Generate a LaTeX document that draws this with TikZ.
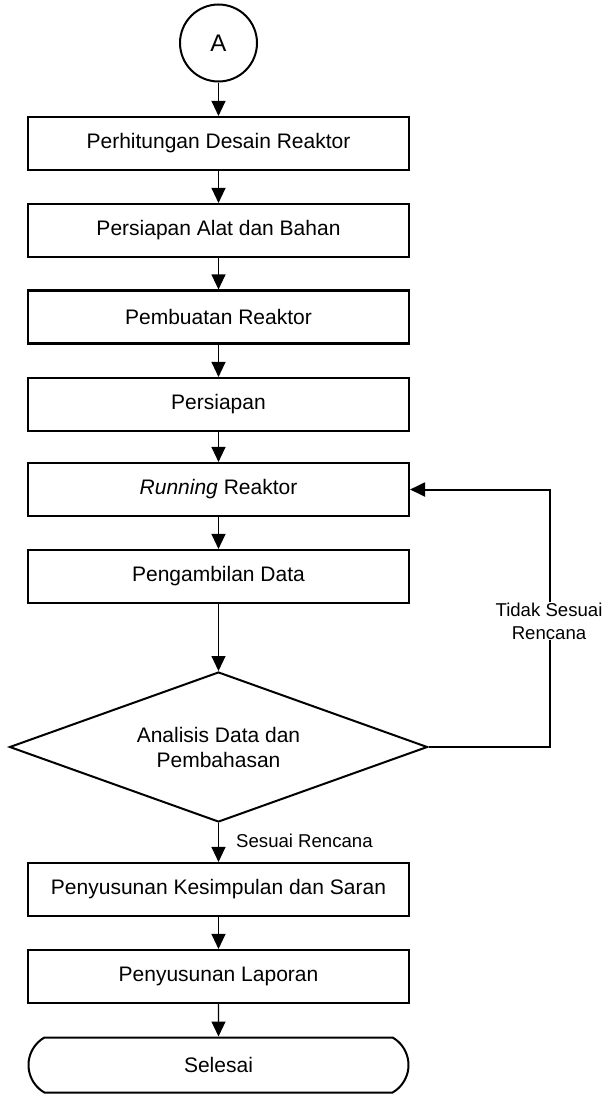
\documentclass[tikz,border=0pt]{standalone}
\usepackage{fontspec}
\setmainfont{Liberation Sans}
\usetikzlibrary{shapes.geometric,shapes.misc,arrows.meta}
\begin{document}
\begin{tikzpicture}[x=1pt,y=-1pt,
  box/.style={draw,line width=2.1pt,minimum width=381pt,minimum height=53pt,inner sep=0pt,font=\fontsize{21}{25}\selectfont},
  conn/.style={line width=1.1pt,-{Triangle[length=15pt,width=14pt]}},
  fb/.style={line width=2pt,-{Triangle[length=15pt,width=14pt]}},
  lbl/.style={font=\fontsize{18.6}{23}\selectfont,align=center,inner sep=1pt}]
\useasboundingbox (0,0) rectangle (607,1095);
\node[draw,circle,line width=2pt,minimum size=77pt,inner sep=0pt,font=\fontsize{24}{28}\selectfont] (a) at (218.5,43) {A};
\node[box] (b1) at (218.5,143.5) {Perhitungan Desain Reaktor};
\node[box] (b2) at (218.5,230.5) {Persiapan Alat dan Bahan};
\node[box] (b3) at (218.5,317) {Pembuatan Reaktor};
\node[box] (b4) at (218.5,404.5) {Persiapan};
\node[box] (b5) at (218.5,489.5) {\textit{Running} Reaktor};
\node[box] (b6) at (218.5,576.5) {Pengambilan Data};
\node[draw,diamond,line width=2pt,aspect=2.8,minimum width=418pt,minimum height=150pt,inner sep=0pt,align=center,font=\fontsize{21}{25}\selectfont] (d) at (218.5,747) {Analisis Data dan\\Pembahasan};
\node[box] (b7) at (218.5,889.5) {Penyusunan Kesimpulan dan Saran};
\node[box] (b8) at (218.5,976.5) {Penyusunan Laporan};
\node[draw,rounded rectangle,rounded rectangle arc length=120,line width=2pt,minimum width=380pt,minimum height=55pt,inner sep=0pt,font=\fontsize{21}{25}\selectfont] (t) at (218.5,1065) {Selesai};
\draw[conn] (a) -- (b1);
\draw[conn] (b1) -- (b2);
\draw[conn] (b2) -- (b3);
\draw[conn] (b3) -- (b4);
\draw[conn] (b4) -- (b5);
\draw[conn] (b5) -- (b6);
\draw[conn] (b6) -- (d);
\draw[conn] (d) -- (b7);
\draw[conn] (b7) -- (b8);
\draw[conn] (b8) -- (t);
\coordinate (c1) at (550,747);
\coordinate (c2) at (550,489.5);
\draw[fb] (d.east) -- (c1) -- (c2) -- (b5.east);
\node[lbl,fill=white] (l1) at (549,621) {Tidak Sesuai\\Rencana};
\node[lbl,anchor=west] (l2) at (235,841) {Sesuai Rencana};
\end{tikzpicture}
\end{document}
